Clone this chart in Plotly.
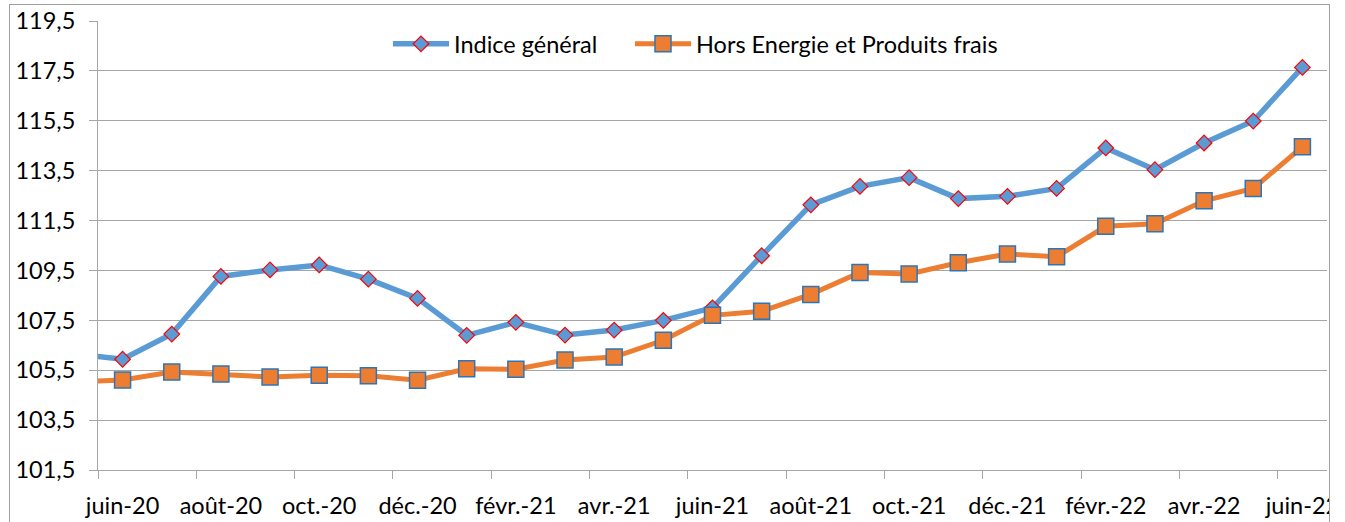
import plotly.graph_objects as go

# ---- data ----
months = ["mai-20", "juin-20", "juil.-20", "août-20", "sept.-20", "oct.-20", "nov.-20", "déc.-20",
          "janv.-21", "févr.-21", "mars-21", "avr.-21", "mai-21", "juin-21", "juil.-21", "août-21",
          "sept.-21", "oct.-21", "nov.-21", "déc.-21", "janv.-22", "févr.-22", "mars-22", "avr.-22",
          "mai-22", "juin-22"]
indice_general = [106.16, 105.94, 106.95, 109.26, 109.52, 109.72, 109.15, 108.38,
                  106.90, 107.42, 106.91, 107.11, 107.50, 108.00, 110.09, 112.13,
                  112.87, 113.22, 112.38, 112.47, 112.79, 114.41, 113.54, 114.61,
                  115.49, 117.64]
hors_energie = [105.03, 105.11, 105.43, 105.35, 105.23, 105.30, 105.28, 105.10,
                105.56, 105.54, 105.91, 106.03, 106.70, 107.70, 107.86, 108.54,
                109.42, 109.36, 109.81, 110.16, 110.05, 111.27, 111.37, 112.29,
                112.79, 114.46]
y_ticks = [101.5, 103.5, 105.5, 107.5, 109.5, 111.5, 113.5, 115.5, 117.5, 119.5]
series_names = ["Indice général", "Hors Energie et Produits frais"]

# x positions: index relative to juin-20
xpos = [i - 1 for i in range(len(months))]
label_idx = [i for i in range(len(months)) if (i - 1) >= 0 and (i - 1) % 2 == 0]
label_vals = [xpos[i] for i in label_idx]
label_text = [months[i] for i in label_idx]
boundary_ticks = [v - 0.5 for v in label_vals]

W, H = 1345, 522
L, R, T, B = 98, 18, 21, 52
PW, PH = W - L - R, H - T - B

def px2x(px):
    return (px - L) / PW

def py2y(py):
    return (H - B - py) / PH

FONT = "Lato, 'Open Sans', sans-serif"
GRID = "#A6A6A6"
FRAME = "#A0A0A0"
FS = 23.5

fig = go.Figure()
fig.add_trace(go.Scatter(
    x=xpos, y=indice_general, name=series_names[0], mode="lines+markers",
    line=dict(color="#5B9BD5", width=5.5),
    marker=dict(symbol="diamond", size=12, color="#5B9BD5", line=dict(color="#FF0000", width=1.2)),
    legend="legend",
))
fig.add_trace(go.Scatter(
    x=xpos, y=hors_energie, name=series_names[1], mode="lines+markers",
    line=dict(color="#ED7D31", width=5),
    marker=dict(symbol="square", size=16, color="#ED7D31", line=dict(color="#2E75B6", width=1.5)),
    legend="legend2",
))
# invisible trace to carry boundary tick marks on overlay axis
fig.add_trace(go.Scatter(x=[xpos[1]], y=[indice_general[1]], xaxis="x2", mode="markers",
                         marker=dict(opacity=0), showlegend=False, hoverinfo="skip"))

xr = [-0.5, 24.5]
leg_common = dict(orientation="h", xanchor="left", yanchor="middle", y=py2y(44),
                  bgcolor="rgba(0,0,0,0)", font=dict(size=FS), itemwidth=56)
fig.update_layout(
    width=W, height=H,
    margin=dict(l=L, r=R, t=T, b=B, autoexpand=False),
    paper_bgcolor="white", plot_bgcolor="white",
    separators=", ",
    font=dict(family=FONT, size=FS, color="#000000"),
    xaxis=dict(range=xr, tickmode="array", tickvals=label_vals, ticktext=label_text,
               showgrid=False, zeroline=False, showline=True, linecolor=GRID, linewidth=1,
               ticks="", ticklabelstandoff=15, tickfont=dict(size=FS), automargin=False),
    xaxis2=dict(range=xr, overlaying="x", side="bottom", tickmode="array", tickvals=boundary_ticks,
                showticklabels=False, ticks="outside", ticklen=8, tickcolor=GRID, tickwidth=1,
                showgrid=False, zeroline=False, showline=False, automargin=False),
    yaxis=dict(range=[101.5, 119.5], tickmode="array", tickvals=y_ticks, tickformat=".1f",
               showgrid=True, gridcolor=GRID, gridwidth=1, zeroline=False,
               showline=True, linecolor=GRID, linewidth=1,
               ticks="outside", ticklen=8, tickcolor=GRID, ticklabelstandoff=9,
               tickfont=dict(size=FS), automargin=False),
    legend=dict(x=px2x(388), **leg_common),
    legend2=dict(x=px2x(630), **leg_common),
    showlegend=True,
    shapes=[
        dict(type="rect", xref="paper", yref="paper", x0=px2x(1330), x1=px2x(W + 10),
             y0=py2y(H + 10), y1=py2y(-10), fillcolor="white", line=dict(width=0), layer="above"),
        dict(type="line", xref="paper", yref="paper", x0=px2x(9.5), x1=px2x(9.5),
             y0=py2y(H + 20), y1=py2y(4), line=dict(color=FRAME, width=1), layer="above"),
        dict(type="line", xref="paper", yref="paper", x0=px2x(9), x1=px2x(1330),
             y0=py2y(4.5), y1=py2y(4.5), line=dict(color=FRAME, width=1), layer="above"),
        dict(type="line", xref="paper", yref="paper", x0=px2x(1329.5), x1=px2x(1329.5),
             y0=py2y(H + 20), y1=py2y(4), line=dict(color=FRAME, width=1), layer="above"),
    ],
)

fig.write_html("out.html", config={"displayModeBar": False},
               post_script="document.body.style.margin='0';document.body.style.overflow='hidden';")
